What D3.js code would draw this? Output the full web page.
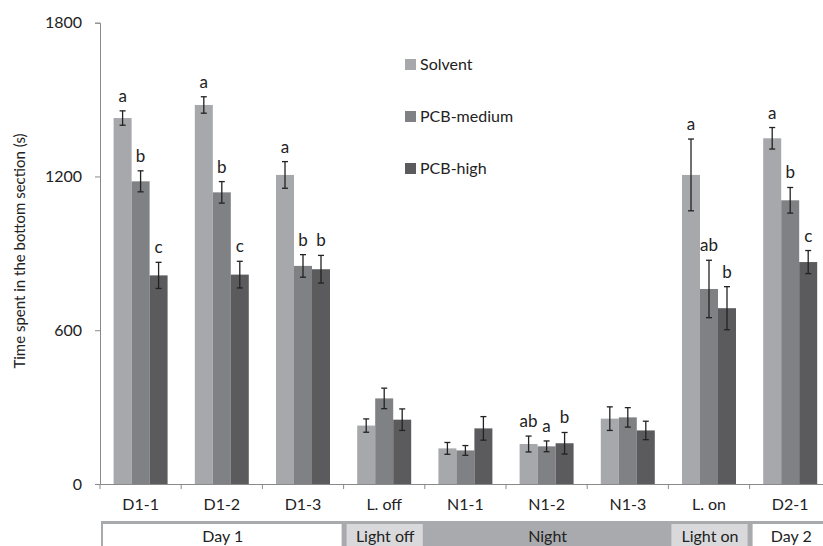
<!DOCTYPE html>
<html><head><meta charset="utf-8">
<script src="https://cdn.jsdelivr.net/npm/d3@7"></script>
<style>body{margin:0;background:#fff}svg{display:block;font-family:Lato,"Open Sans",sans-serif}</style>
</head><body>
<svg id="c" width="823" height="546"></svg>
<script>
const categories = ["D1-1","D1-2","D1-3","L. off","N1-1","N1-2","N1-3","L. on","D2-1"];
const seriesNames = ["Solvent","PCB-medium","PCB-high"];
const solvent    = [1428,1479,1206,228,139,156,255,1206,1349];
const solventErr = [28,32,52,26,23,31,46,140,42];
const medium     = [1181,1138,851,334,131,147,260,761,1107];
const mediumErr  = [41,42,44,40,19,21,38,112,50];
const high       = [814,817,838,251,217,159,209,686,866];
const highErr    = [51,52,54,42,46,42,36,84,45];
const solventLetters = ["a","a","a","","","ab","","a","a"];
const mediumLetters  = ["b","b","b","","","a","","ab","b"];
const highLetters    = ["c","c","b","","","b","","b","c"];
const yTicks = [0,600,1200,1800];
const phases = [
  {label:"Day 1", from:"D1-1", to:"D1-3", fill:"#ffffff"},
  {label:"Light off", from:"L. off", to:"L. off", fill:"#d9d9db"},
  {label:"Night", from:"N1-1", to:"N1-3", fill:"#a9aaad"},
  {label:"Light on", from:"L. on", to:"L. on", fill:"#d9d9db"},
  {label:"Day 2", from:"D2-1", to:"D2-1", fill:"#ffffff"}
];
const colors = ["#a7a8ab","#808184","#5b5b5e"];

const svg = d3.select("#c");
const x0 = 100, step = 81.2;
const x = d3.scaleBand().domain(categories).range([x0, x0 + step*categories.length]).padding(0);
const xs = d3.scaleBand().domain(seriesNames).range([0, x.bandwidth()]).paddingInner(0).paddingOuter(0.756);
const y = d3.scaleLinear().domain([0,1800]).range([484, 22.7]);

const data = seriesNames.map((s,i)=>({
  name:s, color:colors[i],
  vals:[solvent,medium,high][i], errs:[solventErr,mediumErr,highErr][i],
  letters:[solventLetters,mediumLetters,highLetters][i]
}));

// bars
const g = svg.append("g");
data.forEach(s=>{
  categories.forEach((c,j)=>{
    const bx = x(c)+xs(s.name), bw = xs.bandwidth();
    g.append("rect").attr("x",bx).attr("y",y(s.vals[j])).attr("width",bw)
      .attr("height",y(0)-y(s.vals[j])).attr("fill",s.color);
  });
});
// axes
const axisColor = "#8a8a8a";
const yAxis = svg.append("g").attr("transform",`translate(${x0},0)`)
  .call(d3.axisLeft(y).tickValues(yTicks).tickSize(5).tickPadding(13).tickFormat(d3.format("d")));
yAxis.select(".domain").attr("stroke",axisColor);
yAxis.selectAll(".tick line").attr("stroke",axisColor);
yAxis.selectAll("text").attr("font-size",16).attr("fill","#222").attr("font-family","Lato");

const xAxis = svg.append("g").attr("transform",`translate(0,${y(0)})`)
  .call(d3.axisBottom(x).tickSize(0).tickPadding(15));
xAxis.select(".domain").attr("stroke",axisColor);
xAxis.selectAll("text").attr("font-size",16).attr("fill","#222").attr("font-family","Lato");
// boundary ticks
svg.append("g").selectAll("line").data(categories).join("line")
  .attr("x1",d=>x(d)).attr("x2",d=>x(d)).attr("y1",y(0)).attr("y2",y(0)+5).attr("stroke",axisColor);

// error bars
data.forEach(s=>{
  categories.forEach((c,j)=>{
    const cx = x(c)+xs(s.name)+xs.bandwidth()/2;
    const t = y(s.vals[j]+s.errs[j]), b = y(s.vals[j]-s.errs[j]);
    const eg = svg.append("g").attr("stroke","#222").attr("stroke-width",1.3);
    eg.append("line").attr("x1",cx).attr("x2",cx).attr("y1",t).attr("y2",b);
    eg.append("line").attr("x1",cx-3).attr("x2",cx+3).attr("y1",t).attr("y2",t);
    eg.append("line").attr("x1",cx-3).attr("x2",cx+3).attr("y1",b).attr("y2",b);
    if (s.letters[j]) {
      svg.append("text").attr("x",cx).attr("y",t-9).attr("text-anchor","middle")
        .attr("font-size",17).attr("fill","#222").text(s.letters[j]);
    }
  });
});

// legend
const lg = svg.append("g");
seriesNames.forEach((s,i)=>{
  const ly = 59 + i*52;
  lg.append("rect").attr("x",405).attr("y",ly).attr("width",11).attr("height",11).attr("fill",colors[i]);
  lg.append("text").attr("x",420).attr("y",ly+11).attr("font-size",16).attr("fill","#222").text(s);
});

// y label
svg.append("text").attr("transform","translate(25,251) rotate(-90)").attr("text-anchor","middle")
  .attr("font-size",15).attr("fill","#222").text("Time spent in the bottom section (s)");

// phase bands
const bandTop = 521;
svg.append("rect").attr("x",x(categories[0])+1).attr("y",bandTop).attr("width",823).attr("height",30).attr("fill","#a9aaad");
phases.forEach(p=>{
  const a = x(p.from), b = x(p.to)+x.bandwidth();
  svg.append("rect").attr("x",a+3).attr("y",bandTop+3).attr("width",b-a-5).attr("height",30).attr("fill",p.fill);
  svg.append("text").attr("x",(a+b)/2+1).attr("y",541.5).attr("text-anchor","middle")
    .attr("font-size",16).attr("fill","#222").text(p.label);
});
</script>
</body></html>
